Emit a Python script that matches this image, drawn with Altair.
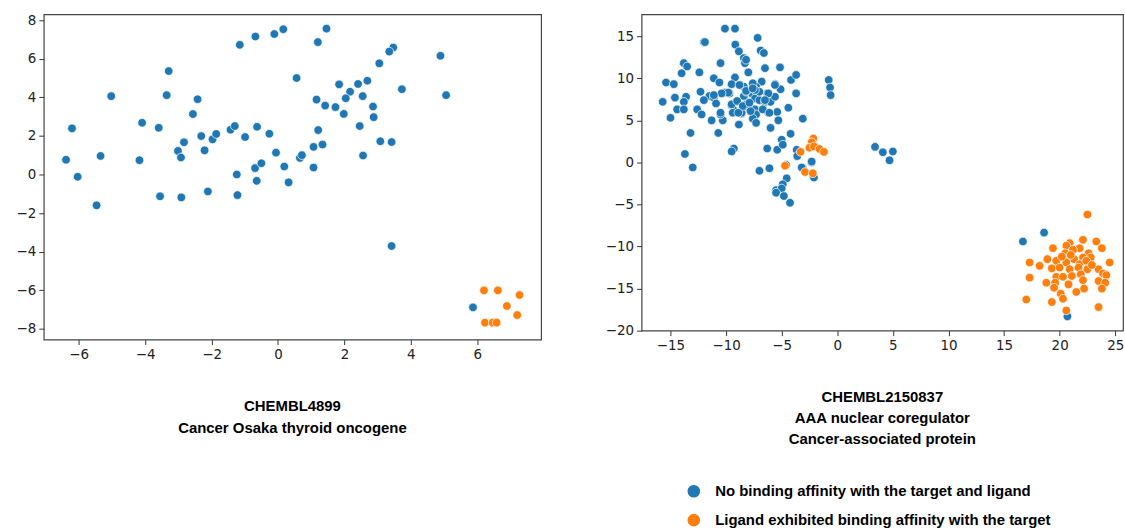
import altair as alt
import pandas as pd

NO = "No binding affinity with the target and ligand"
YES = "Ligand exhibited binding affinity with the target"

left_title = ["CHEMBL4899", "Cancer Osaka thyroid oncogene"]
right_title = ["CHEMBL2150837", "AAA nuclear coregulator", "Cancer-associated protein"]

left_x_ticks = [-6, -4, -2, 0, 2, 4, 6]
left_y_ticks = [-8, -6, -4, -2, 0, 2, 4, 6, 8]
right_x_ticks = [-15, -10, -5, 0, 5, 10, 15, 20, 25]
right_y_ticks = [-20, -15, -10, -5, 0, 5, 10, 15]

left_blue = [
    (-6.38, 0.76), (-6.2, 2.39), (-6.03, -0.12), (-5.02, 4.06), (-5.34, 0.96), (-4.17, 0.74),
    (-4.09, 2.68), (-3.59, 2.42), (-3.35, 4.11), (-3.29, 5.36), (-3.01, 1.22), (-2.92, 0.88),
    (-2.83, 1.67), (-2.56, 3.13), (-2.42, 3.90), (-2.31, 1.99), (-2.21, 1.25), (-1.97, 1.82),
    (-1.86, 2.10), (-3.55, -1.13), (-2.91, -1.19), (-2.11, -0.88), (-1.43, 2.32), (-1.30, 2.51),
    (-1.24, 0.0), (-1.22, -1.07), (-1.15, 6.72), (-0.99, 1.94), (-0.68, 7.15), (-0.63, 2.47),
    (-0.69, 0.33), (-0.50, 0.58), (-0.64, -0.33), (-0.26, 2.11), (-0.11, 7.28), (-0.06, 1.13),
    (0.16, 7.53), (1.46, 7.56), (1.20, 6.86), (3.47, 6.58), (3.35, 6.37), (3.05, 5.76),
    (4.89, 6.15), (0.56, 5.0), (1.84, 4.67), (2.41, 4.69), (2.69, 4.86), (2.17, 4.29),
    (2.04, 3.95), (2.55, 4.06), (3.73, 4.42), (5.06, 4.11), (1.16, 3.88), (1.42, 3.57),
    (1.73, 3.49), (1.98, 3.14), (2.86, 3.52), (2.88, 2.97), (2.46, 2.51), (1.21, 2.30),
    (0.19, 0.41), (0.66, 0.86), (0.72, 1.0), (1.07, 1.43), (1.34, 1.55), (1.07, 0.36),
    (0.32, -0.41), (3.08, 1.72), (3.42, 1.68), (2.56, 0.98), (-5.46, -1.60), (3.42, -3.71),
    (5.87, -6.89),
]
left_orange = [
    (6.20, -6.01), (6.62, -6.01), (7.27, -6.25), (6.89, -6.82), (7.20, -7.29),
    (6.23, -7.68), (6.46, -7.68), (6.58, -7.68),
]

right_blue = [
    (-10.1, 15.9), (-9.2, 15.9), (-7.16, 14.8), (-12.0, 14.3), (-11.9, 14.3), (-9.17, 14.0),
    (-8.85, 13.2), (-6.89, 13.3), (-6.6, 13.0), (-8.4, 12.4), (-8.3, 11.8), (-8.2, 12.2),
    (-13.8, 11.8), (-13.5, 11.4), (-10.5, 11.8), (-6.5, 11.2), (-5.15, 11.3), (-8.0, 10.7),
    (-12.4, 10.7), (-14.0, 10.6), (-15.4, 9.5), (-14.7, 9.3), (-11.1, 10.0), (-10.6, 9.5),
    (-9.2, 10.1), (-9.5, 9.3), (-8.7, 9.2), (-7.55, 9.3), (-6.8, 9.6), (-5.6, 9.3),
    (-4.16, 9.8), (-3.7, 10.4), (-5.1, 8.7), (-12.3, 8.4), (-11.5, 7.9), (-10.1, 8.3),
    (-9.7, 8.2), (-14.6, 7.7), (-13.6, 7.8), (-13.8, 7.2), (-15.7, 7.2), (-12.0, 7.4),
    (-11.1, 7.7), (-9.1, 7.2), (-9.5, 6.8), (-8.4, 7.9), (-7.7, 8.2), (-7.4, 7.6),
    (-7.0, 7.4), (-6.5, 7.2), (-6.0, 7.2), (-5.6, 7.8), (-6.3, 8.2), (-7.3, 9.0),
    (-7.0, 8.4), (-8.4, 9.0), (-14.4, 6.3), (-13.8, 6.3), (-15.0, 5.3), (-12.6, 6.3),
    (-12.2, 5.7), (-11.3, 5.0), (-10.3, 5.0), (-10.5, 5.7), (-9.3, 6.2), (-8.6, 5.8),
    (-8.0, 6.5), (-7.4, 6.3), (-7.3, 5.7), (-7.6, 5.2), (-7.3, 4.7), (-6.2, 5.9),
    (-5.4, 6.0), (-4.4, 6.5), (-5.3, 5.0), (-6.0, 4.1), (-8.85, 4.5), (-10.7, 3.5),
    (-13.2, 3.5), (-3.1, 5.2), (-3.7, 8.2), (-0.77, 9.8), (-0.65, 8.9), (-0.6, 8.0),
    (-13.7, 1.0), (-13.0, -0.6), (-9.3, 1.65), (-9.5, 1.3), (-6.3, 1.65), (-5.4, 1.5),
    (-5.0, 2.7), (-4.9, 2.1), (-4.2, 3.4), (-7.0, -1.0), (-6.1, -0.7), (-4.6, -0.3),
    (-3.65, 1.5), (-3.6, 0.75), (-3.1, -0.7), (-2.3, 0.0), (-2.1, -1.7), (-4.55, -1.9),
    (-4.9, -2.6), (-5.5, -3.3), (-5.0, -3.1), (-5.5, -3.6), (-4.8, -4.0), (-4.25, -4.8),
    (3.4, 1.85), (4.1, 1.2), (5.0, 1.3), (4.7, 0.25), (-2.3, 0.1), (-3.2, -0.6),
    (-2.1, -1.8), (-8.8, 9.2), (-8.2, 8.4), (-7.6, 9.4), (-6.2, 8.2), (-5.6, 9.2),
    (-7.4, 8.6), (-6.5, 7.4), (-8.2, 6.9), (-8.6, 5.9), (-7.8, 6.1), (-6.7, 6.3),
    (-6.1, 5.9), (-10.9, 7.0), (-9.8, 8.3), (-10.4, 8.2), (-11.1, 8.0), (-8.2, 8.5),
    (-7.6, 8.8), (-9.5, 6.9), (-9.0, 7.3), (-8.5, 6.7), (-7.9, 7.1), (-9.4, 5.9),
    (-8.9, 5.9), (-10.5, 5.9),
    (16.7, -9.4), (18.6, -8.35), (20.7, -18.3),
]
right_orange = [
    (-2.15, 2.85), (-2.3, 2.4), (-2.5, 1.75), (-2.1, 1.9), (-1.6, 1.6), (-3.3, 1.25),
    (-1.2, 1.25), (-2.9, -1.15), (-2.2, -1.3), (-4.7, -0.4),
    (22.5, -6.2), (22.1, -9.2), (23.3, -9.4), (20.9, -9.6), (20.6, -9.9), (21.8, -10.2),
    (23.8, -10.2), (19.4, -10.2), (21.2, -10.4), (20.5, -10.8), (22.6, -10.8), (21.3, -11.5),
    (22.1, -11.3), (22.8, -11.3), (18.9, -11.5), (17.3, -11.9), (18.2, -12.3), (24.5, -11.9),
    (20.6, -11.9), (21.8, -12.1), (22.4, -11.7), (19.7, -11.7), (19.3, -12.6), (20.0, -12.5),
    (20.9, -12.7), (21.7, -12.5), (22.5, -12.7), (23.5, -12.7), (23.9, -13.2), (24.2, -13.4),
    (19.7, -13.6), (20.3, -13.6), (21.1, -13.5), (21.9, -13.3), (17.3, -13.7), (18.8, -14.3),
    (19.6, -14.3), (20.8, -14.5), (22.1, -14.0), (23.5, -14.1), (24.1, -14.3), (19.5, -14.9),
    (21.5, -15.4), (22.2, -15.0), (23.8, -15.0), (20.1, -15.6), (20.3, -16.2), (19.3, -16.6),
    (23.5, -17.2), (20.6, -17.6), (17.0, -16.3), (21.0, -11.0), (22.9, -12.2), (20.2, -11.2),
]


def frame(blue, orange):
    rows = [{"x": a, "y": b, "cls": NO, "k": 0} for a, b in blue]
    rows += [{"x": a, "y": b, "cls": YES, "k": 1} for a, b in orange]
    return pd.DataFrame(rows)


color = alt.Color(
    "cls:N",
    scale=alt.Scale(domain=[NO, YES], range=["#1f77b4", "#ff7f0e"]),
    legend=alt.Legend(
        title=None, orient="none", legendX=646, legendY=472,
        symbolType="circle", symbolSize=160, symbolStrokeWidth=0,
        labelFont="Liberation Sans", labelFontSize=15, labelFontWeight="bold",
        labelColor="black", labelOffset=14, rowPadding=13, padding=0,
        labelLimit=500,
    ),
)


def axis(vals):
    return alt.Axis(
        values=vals, title=None, grid=False, domain=False, tickSize=5,
        tickColor="#333", labelFont="DejaVu Sans", labelFontSize=13.5,
        labelColor="#222", labelPadding=3,
    )


def panel(df, xdom, ydom, xt, yt, w, h, title, lh):
    return (
        alt.Chart(df)
        .mark_circle(size=75, opacity=1, stroke="white", strokeWidth=0.7)
        .encode(
            x=alt.X("x:Q", scale=alt.Scale(domain=xdom, nice=False, zero=False), axis=axis(xt)),
            y=alt.Y("y:Q", scale=alt.Scale(domain=ydom, nice=False, zero=False), axis=axis(yt)),
            color=color,
            order=alt.Order("k:Q"),
        )
        .properties(
            width=w, height=h,
            title=alt.TitleParams(
                text=title, orient="bottom", anchor="middle", font="Liberation Sans",
                fontSize=15, fontWeight="bold", color="black", lineHeight=lh, offset=38,
            ),
        )
    )


left = panel(frame(left_blue, left_orange), [-7.05, 7.92], [-8.56, 8.3],
             left_x_ticks, left_y_ticks, 500, 327, left_title, 22)
right = panel(frame(right_blue, right_orange), [-17.6, 25.7], [-20.0, 17.6],
              right_x_ticks, right_y_ticks, 484, 318, right_title, 21)

chart = (
    alt.hconcat(left, right, spacing=62)
    .properties(padding={"left": 15, "top": 11, "right": 0, "bottom": 0})
    .configure_view(stroke="#444", strokeWidth=1.2)
)

chart.save("out.html", embed_options={"renderer": "svg", "actions": False})
